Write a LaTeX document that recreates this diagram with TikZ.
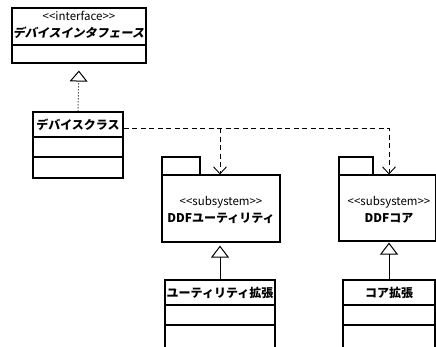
\documentclass[tikz,border=0pt]{standalone}
\usepackage{fontspec}
\setmainfont{Noto Sans CJK JP}[BoldFont={Noto Sans CJK JP Black}, Ligatures=TeXOff]
\newfontfamily\slantbold{Noto Sans CJK JP Black}[FakeSlant=0.2]
\usetikzlibrary{arrows.meta}

\tikzset{
  box/.style={draw, line width=1.1pt, inner sep=0pt, fill=white},
  stereo/.style={font=\fontsize{11.5}{13}\selectfont},
  title/.style={font=\fontsize{12}{14}\selectfont\bfseries},
  realize/.style={line width=1pt, dash pattern=on 1pt off 2pt,
    -{Triangle[open, length=11pt, width=18pt, line width=1pt]}},
  inherit/.style={line width=1pt,
    -{Triangle[open, length=12pt, width=18pt, line width=1pt]}},
  depend/.style={line width=0.9pt, dash pattern=on 5pt off 3.5pt,
    -{Straight Barb[length=7pt, width=13pt, line width=0.9pt]}}
}

\begin{document}
\begin{tikzpicture}[x=1pt, y=-1pt]
  \useasboundingbox (0,0) rectangle (436,346);
  \clip (0,0) rectangle (436,346);

  % interface
  \node[box, minimum width=134, minimum height=37] (ifhead) at (79,26.5) {};
  \node[box, minimum width=134, minimum height=18] (ifbody) at (79,54) {};
  \node[stereo] (ifstereo) at (79,16) {<<interface>>};
  \node[font=\fontsize{12}{14}\selectfont\slantbold] (ifname) at (78.5,33) {デバイスインタフェース};

  % device class
  \node[box, minimum width=90, minimum height=25, title] (devhead) at (78,124.5) {デバイスクラス};
  \node[box, minimum width=90, minimum height=20] (devmid) at (78,147) {};
  \node[box, minimum width=90, minimum height=21] (devbot) at (78,167.5) {};

  % utility subsystem package
  \node[box, minimum width=38, minimum height=18] (utiltab) at (181,166) {};
  \node[box, minimum width=118, minimum height=67] (utilbody) at (221,208.5) {};
  \node[stereo] (utilstereo) at (221,202) {<<subsystem>>};
  \node[title] (utilname) at (221,218) {DDFユーティリティ};

  % core subsystem package
  \node[box, minimum width=34, minimum height=18] (coretab) at (356,166) {};
  \node[box, minimum width=97, minimum height=66] (corebody) at (387.5,208) {};
  \node[stereo] (corestereo) at (389,202) {<<subsystem>>};
  \node[title] (corename) at (389,218) {DDFコア};

  % utility extension class
  \node[box, minimum width=110, minimum height=25, title] (utilhead) at (220,292.5) {ユーティリティ拡張};
  \node[box, minimum width=110, minimum height=20] (utilmid) at (220,315) {};
  \node[box, minimum width=110, minimum height=35] (utilbot) at (220,342.5) {};

  % core extension class
  \node[box, minimum width=92, minimum height=25, title] (corehead) at (389,292.5) {コア拡張};
  \node[box, minimum width=92, minimum height=20] (coremid) at (389,315) {};
  \node[box, minimum width=92, minimum height=35] (corebot) at (389,342.5) {};

  % realization of the interface
  \draw[realize, shorten >=7pt] (devhead.north) -- (ifbody.south);

  % dependencies on the subsystems
  \coordinate (split) at (utilhead.north |- devhead.east);
  \draw[depend] ([yshift=-3.5pt]devhead.east) -| (corehead.north |- corebody.north);
  \draw[depend] ([yshift=-3.5pt]split) -- (utilhead.north |- utilbody.north);

  % extensions of the subsystems
  \draw[inherit, shorten >=3pt] (utilhead.north) -- (utilhead.north |- utilbody.south);
  \draw[inherit, shorten >=1pt] (corehead.north) -- (corehead.north |- corebody.south);
\end{tikzpicture}
\end{document}
